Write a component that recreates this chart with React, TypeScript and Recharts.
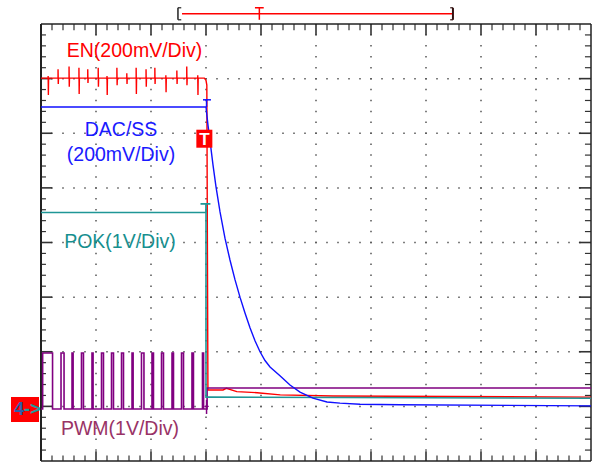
import React from 'react';
import { ComposedChart, Line, XAxis, YAxis, ReferenceLine, ReferenceDot } from 'recharts';

const FONT = '"Liberation Sans", Arial, Helvetica, sans-serif';

// Screen: 10 horizontal divisions, 8 vertical divisions (0 = bottom edge)
const xMajor = [1, 2, 3, 4, 5, 6, 7, 8, 9];
const yMajor = [1, 2, 3, 4, 5, 6, 7];

// EN (200mV/Div)
const enHigh = 7.01;
const enSpikeX = [0.13, 0.31, 0.51, 0.69, 0.85, 1.04, 1.2, 1.38, 1.56, 1.73, 1.91, 2.07, 2.27, 2.47, 2.65, 2.85];
const enSpikeHigh = [7.05, 7.17, 7.22, 7.2, 7.17, 7.2, 7.05, 7.2, 7.1, 7.2, 7.17, 7.2, 7.06, 7.15, 7.22, 7.06];
const enSpikeLow = [6.7, 6.9, 6.85, 6.72, 6.92, 6.85, 6.7, 6.88, 6.9, 6.72, 6.85, 6.9, 6.75, 6.9, 6.88, 6.7];
const enFallX = [2.97, 3.0, 3.015, 3.035, 3.31, 3.37, 3.56, 3.93, 4.35, 5.31, 10];
const enFallY = [7.01, 6.97, 6.88, 1.3, 1.3, 1.33, 1.27, 1.25, 1.21, 1.19, 1.17];

// DAC/SS (200mV/Div)
const dacX = [0, 3.0, 3.036, 3.073, 3.127, 3.182, 3.255, 3.345, 3.436, 3.527, 3.618, 3.709, 3.8, 3.891, 3.982, 4.073, 4.164, 4.345, 4.527, 4.709, 4.945, 5.2, 5.436, 5.8, 6.527, 10];
const dacY = [6.48, 6.48, 6.15, 5.86, 5.42, 5.02, 4.56, 4.08, 3.68, 3.32, 3.0, 2.71, 2.44, 2.2, 2.0, 1.84, 1.72, 1.56, 1.39, 1.26, 1.15, 1.08, 1.06, 1.04, 1.03, 1.01];

// POK (1V/Div)
const pokX = [0, 3.0, 3.0, 3.07, 10];
const pokY = [4.55, 4.55, 1.17, 1.17, 1.15];

// PWM (1V/Div)
const pwmLow = 0.952;
const pwmHigh = 1.978;
const pwmPulseStart = [0.03, 0.364, 0.564, 0.736, 0.927, 1.1, 1.282, 1.464, 1.655, 1.827, 2.018, 2.191, 2.382, 2.555, 2.745, 2.936];
const pwmPulseWidth = [0.18, 0.055, 0.02, 0.036, 0.02, 0.036, 0.036, 0.036, 0.02, 0.045, 0.027, 0.036, 0.027, 0.036, 0.027, 0.02];
const pwmTailX = [3.02, 3.02, 10];
const pwmTailY = [0.952, 1.337, 1.337];

// Labels
const labelText = ['EN(200mV/Div)', 'DAC/SS', '(200mV/Div)', 'POK(1V/Div)', 'PWM(1V/Div)'];
const labelX = [1.7, 1.455, 1.455, 1.436, 1.436];
const labelY = [7.39, 5.952, 5.495, 3.901, 0.476];
const labelColor = ['#ff0000', '#1a1aff', '#1a1aff', '#178f8f', '#993366'];

// Build series tables
const enData: { x: number; y: number }[] = [{ x: 0, y: enHigh }];
enSpikeX.forEach((s, i) => {
  enData.push({ x: s, y: enHigh }, { x: s, y: enSpikeHigh[i] }, { x: s + 0.004, y: enSpikeLow[i] }, { x: s + 0.008, y: enHigh });
});
enFallX.forEach((x, i) => enData.push({ x, y: enFallY[i] }));

const dacData = dacX.map((x, i) => ({ x, y: dacY[i] }));
const pokData = pokX.map((x, i) => ({ x, y: pokY[i] }));

const pwmData: { x: number; y: number }[] = [{ x: 0, y: pwmLow }];
pwmPulseStart.forEach((s, i) => {
  const e = s + pwmPulseWidth[i];
  pwmData.push({ x: s, y: pwmLow }, { x: s, y: pwmHigh }, { x: e, y: pwmHigh }, { x: e, y: pwmLow });
});
pwmTailX.forEach((x, i) => pwmData.push({ x, y: pwmTailY[i] }));

const xTicks = Array.from({ length: 49 }, (_, i) => i + 1);
const yTicks = Array.from({ length: 39 }, (_, i) => i + 1);

const FRAME = '#222';
const TICK = '#333';
const DOT = '#555';

const seg = (key: string, a: [number, number], b: [number, number], stroke: string, w: number) => (
  <ReferenceLine
    key={key}
    segment={[{ x: a[0], y: a[1] }, { x: b[0], y: b[1] }]}
    stroke={stroke}
    strokeWidth={w}
    ifOverflow="visible"
  />
);

export default function App() {
  return (
    <div style={{ position: 'absolute', left: 0, top: 0, width: 597, height: 463, background: '#fff' }}>
      <ComposedChart width={597} height={463} margin={{ top: 24, right: 6, bottom: 2, left: 41 }}>
        <XAxis type="number" dataKey="x" domain={[0, 10]} hide allowDataOverflow />
        <YAxis type="number" domain={[0, 8]} hide allowDataOverflow />

        {yMajor.map((y) => (
          <ReferenceLine key={'gh' + y} y={y} stroke={DOT} strokeWidth={1.5} strokeDasharray="1.5 9.5" strokeDashoffset={0.75} />
        ))}
        {xMajor.map((x) => (
          <ReferenceLine key={'gv' + x} x={x} stroke={DOT} strokeWidth={1.5} strokeDasharray="1.5 9.425" strokeDashoffset={0.75} />
        ))}

        {xTicks.map((k) => {
          const major = k % 5 === 0;
          const x = k / 5;
          return [
            seg('tt' + k, [x, 8], [x, 8 - (major ? 0.2 : 0.115)], TICK, major ? 1.6 : 1.2),
            seg('tb' + k, [x, 0], [x, major ? 0.18 : 0.1], TICK, major ? 1.6 : 1.2),
          ];
        })}
        {yTicks.map((k) => {
          const major = k % 5 === 0;
          const y = k / 5;
          return [
            seg('tl' + k, [0, y], [major ? 0.2 : 0.09, y], TICK, major ? 1.6 : 1.2),
            seg('tr' + k, [10, y], [10 - (major ? 0.22 : 0.11), y], TICK, major ? 1.6 : 1.2),
          ];
        })}

        {seg('fl', [0, 0], [0, 8], FRAME, 2)}
        {seg('fr', [10, 0], [10, 8], FRAME, 1.5)}
        {seg('ft', [0, 8], [10, 8], FRAME, 1.5)}
        {seg('fb', [0, 0], [10, 0], FRAME, 1.5)}

        {/* record overview bar */}
        {seg('tr1', [2.564, 8.187], [7.49, 8.187], '#ff0000', 1.5)}
        {seg('tr2', [2.49, 8.297], [2.49, 8.077], '#222', 1.5)}
        {seg('tr3', [2.49, 8.297], [2.55, 8.297], '#222', 1.2)}
        {seg('tr4', [2.49, 8.077], [2.55, 8.077], '#222', 1.2)}
        {seg('tr5', [7.49, 8.297], [7.49, 8.077], '#331111', 2)}
        {seg('tr6', [7.44, 8.297], [7.49, 8.297], '#331111', 1.2)}
        {seg('tr7', [7.44, 8.077], [7.49, 8.077], '#331111', 1.2)}
        {seg('tr8', [3.89, 8.297], [4.05, 8.297], '#ff0000', 1.5)}
        {seg('tr9', [3.97, 8.297], [3.97, 8.077], '#ff0000', 1.5)}

        <Line data={enData} dataKey="y" type="linear" stroke="#ff0000" strokeWidth={1.4} dot={false} isAnimationActive={false} />
        <Line data={pwmData} dataKey="y" type="linear" stroke="#800080" strokeWidth={1.6} dot={false} isAnimationActive={false} />
        <Line data={pokData} dataKey="y" type="linear" stroke="#1f9696" strokeWidth={1.6} dot={false} isAnimationActive={false} />
        <Line data={dacData} dataKey="y" type="linear" stroke="#1010ff" strokeWidth={1.4} dot={false} isAnimationActive={false} />

        {/* trigger position markers on traces */}
        {seg('mb1', [2.945, 6.612], [3.09, 6.612], '#1010ff', 1.5)}
        {seg('mb2', [3.01, 6.612], [3.01, 6.48], '#1010ff', 1.5)}
        {seg('mt1', [2.9, 4.707], [3.08, 4.707], '#1f9696', 1.8)}
        {seg('mt2', [3.0, 4.707], [3.0, 4.548], '#1f9696', 1.8)}
        {seg('mp1', [3.01, 1.117], [3.01, 0.861], '#800080', 1.5)}
        {seg('mp2', [2.97, 1.0], [3.05, 1.0], '#800080', 1.2)}

        <ReferenceDot
          x={2.97}
          y={5.9}
          ifOverflow="visible"
          shape={(p: any) => (
            <g>
              <rect x={p.cx - 8} y={p.cy - 9} width={16} height={18} fill="#ff0000" />
              <text x={p.cx} y={p.cy + 6.5} textAnchor="middle" fontFamily={FONT} fontWeight="bold" fontSize={17} fill="#fff">T</text>
            </g>
          )}
        />
        <ReferenceDot
          x={0}
          y={pwmLow}
          ifOverflow="visible"
          shape={(p: any) => (
            <g>
              <rect x={p.cx - 30} y={p.cy - 12} width={28} height={25} fill="#ff0000" />
              <text x={p.cx - 27} y={p.cy + 6.5} fontFamily={FONT} fontWeight="bold" fontSize={18}>
                <tspan fill="#2b5ea8">4</tspan>
                <tspan fill="#1e9a9a">-&gt;</tspan>
              </text>
            </g>
          )}
        />

        {labelText.map((t, i) => (
          <ReferenceDot
            key={'lab' + i}
            x={labelX[i]}
            y={labelY[i]}
            ifOverflow="visible"
            shape={(p: any) => (
              <text x={p.cx} y={p.cy} textAnchor="middle" fontFamily={FONT} fontSize={19.5} fill={labelColor[i]}>
                {t}
              </text>
            )}
          />
        ))}
      </ComposedChart>
    </div>
  );
}
